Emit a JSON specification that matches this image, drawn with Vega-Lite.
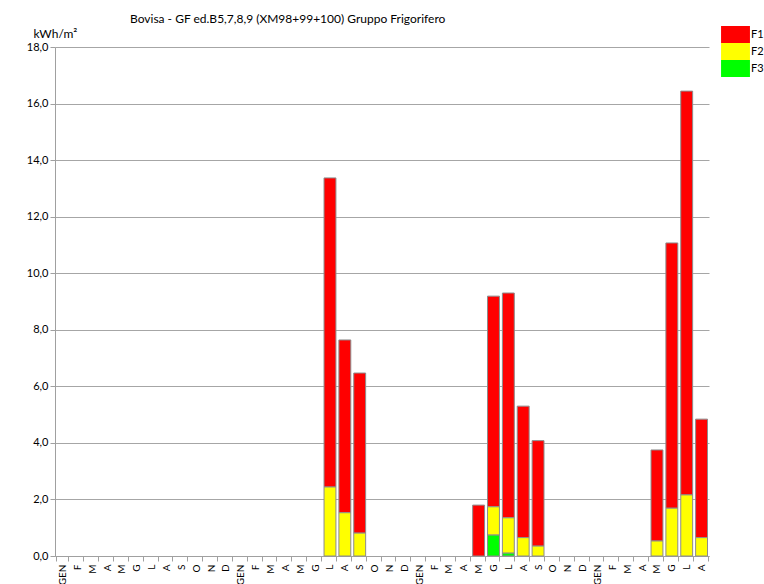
{
  "$schema": "https://vega.github.io/schema/vega-lite/v6.json",
  "width": 654,
  "height": 509,
  "autosize": "none",
  "padding": {"left": 55, "top": 47, "right": 55, "bottom": 28},
  "background": "white",
  "config": {
    "font": "Lato",
    "view": {"stroke": null},
    "locale": {"number": {"decimal": ",", "thousands": ".", "grouping": [3], "currency": ["", " €"]}}
  },
  "title": {
    "text": "Bovisa - GF ed.B5,7,8,9 (XM98+99+100)  Gruppo Frigorifero",
    "anchor": "start",
    "frame": "group",
    "dx": 75,
    "dy": 8,
    "offset": 8,
    "fontSize": 12,
    "fontWeight": "normal",
    "font": "Lato",
    "color": "#000000"
  },
  "data": {
    "values": [
      {"periodo": "1-GEN", "F1": 0, "F2": 0, "F3": 0},
      {"periodo": "1-F", "F1": 0, "F2": 0, "F3": 0},
      {"periodo": "1-M", "F1": 0, "F2": 0, "F3": 0},
      {"periodo": "1-A", "F1": 0, "F2": 0, "F3": 0},
      {"periodo": "1-Mg", "F1": 0, "F2": 0, "F3": 0},
      {"periodo": "1-G", "F1": 0, "F2": 0, "F3": 0},
      {"periodo": "1-L", "F1": 0, "F2": 0, "F3": 0},
      {"periodo": "1-Ag", "F1": 0, "F2": 0, "F3": 0},
      {"periodo": "1-S", "F1": 0, "F2": 0, "F3": 0},
      {"periodo": "1-O", "F1": 0, "F2": 0, "F3": 0},
      {"periodo": "1-N", "F1": 0, "F2": 0, "F3": 0},
      {"periodo": "1-D", "F1": 0, "F2": 0, "F3": 0},
      {"periodo": "2-GEN", "F1": 0, "F2": 0, "F3": 0},
      {"periodo": "2-F", "F1": 0, "F2": 0, "F3": 0},
      {"periodo": "2-M", "F1": 0, "F2": 0, "F3": 0},
      {"periodo": "2-A", "F1": 0, "F2": 0, "F3": 0},
      {"periodo": "2-Mg", "F1": 0, "F2": 0, "F3": 0},
      {"periodo": "2-G", "F1": 0, "F2": 0, "F3": 0},
      {"periodo": "2-L", "F1": 10.93, "F2": 2.44, "F3": 0},
      {"periodo": "2-Ag", "F1": 6.11, "F2": 1.53, "F3": 0},
      {"periodo": "2-S", "F1": 5.66, "F2": 0.81, "F3": 0},
      {"periodo": "2-O", "F1": 0, "F2": 0, "F3": 0},
      {"periodo": "2-N", "F1": 0, "F2": 0, "F3": 0},
      {"periodo": "2-D", "F1": 0, "F2": 0, "F3": 0},
      {"periodo": "3-GEN", "F1": 0, "F2": 0, "F3": 0},
      {"periodo": "3-F", "F1": 0, "F2": 0, "F3": 0},
      {"periodo": "3-M", "F1": 0, "F2": 0, "F3": 0},
      {"periodo": "3-A", "F1": 0, "F2": 0, "F3": 0},
      {"periodo": "3-Mg", "F1": 1.8, "F2": 0, "F3": 0},
      {"periodo": "3-G", "F1": 7.45, "F2": 1.0, "F3": 0.74},
      {"periodo": "3-L", "F1": 7.95, "F2": 1.25, "F3": 0.1},
      {"periodo": "3-Ag", "F1": 4.65, "F2": 0.65, "F3": 0},
      {"periodo": "3-S", "F1": 3.73, "F2": 0.35, "F3": 0},
      {"periodo": "3-O", "F1": 0, "F2": 0, "F3": 0},
      {"periodo": "3-N", "F1": 0, "F2": 0, "F3": 0},
      {"periodo": "3-D", "F1": 0, "F2": 0, "F3": 0},
      {"periodo": "4-GEN", "F1": 0, "F2": 0, "F3": 0},
      {"periodo": "4-F", "F1": 0, "F2": 0, "F3": 0},
      {"periodo": "4-M", "F1": 0, "F2": 0, "F3": 0},
      {"periodo": "4-A", "F1": 0, "F2": 0, "F3": 0},
      {"periodo": "4-Mg", "F1": 3.22, "F2": 0.53, "F3": 0},
      {"periodo": "4-G", "F1": 9.38, "F2": 1.69, "F3": 0},
      {"periodo": "4-L", "F1": 14.28, "F2": 2.16, "F3": 0},
      {"periodo": "4-Ag", "F1": 4.19, "F2": 0.65, "F3": 0}
    ]
  },
  "transform": [
    {"fold": ["F1", "F2", "F3"], "as": ["fascia", "valore"]}
  ],
  "mark": {"type": "bar", "stroke": "#8c8c8c", "strokeWidth": 1},
  "encoding": {
    "x": {
      "field": "periodo",
      "type": "ordinal",
      "sort": null,
      "scale": {"paddingInner": 0.2, "paddingOuter": 0.1},
      "axis": {
        "title": null,
        "labelAngle": -90,
        "labelExpr": "isString(datum.value) ? replace(replace(split(datum.value, '-')[1], 'Mg', 'M'), 'Ag', 'A') : ''",
        "labelFontSize": 10,
        "labelColor": "#000000",
        "labelPadding": 3,
        "tickBand": "extent",
        "tickSize": 5,
        "tickColor": "#a0a0a0",
        "domainColor": "#a0a0a0",
        "grid": false
      }
    },
    "y": {
      "field": "valore",
      "type": "quantitative",
      "stack": "zero",
      "scale": {"domain": [0, 18], "nice": false},
      "axis": {
        "title": "kWh/m²",
        "titleAngle": 0,
        "titleX": -22,
        "titleY": -14,
        "titleAlign": "left",
        "titleBaseline": "middle",
        "titleFontSize": 12,
        "titleFontWeight": "normal",
        "titleColor": "#000000",
        "values": [0, 2, 4, 6, 8, 10, 12, 14, 16, 18],
        "format": ".1f",
        "labelFontSize": 11,
        "labelColor": "#000000",
        "labelPadding": 2,
        "tickSize": 5,
        "tickColor": "#a0a0a0",
        "domainColor": "#a0a0a0",
        "grid": true,
        "gridColor": "#a6a6a6",
        "gridWidth": 1
      }
    },
    "color": {
      "field": "fascia",
      "type": "nominal",
      "scale": {"domain": ["F1", "F2", "F3"], "range": ["#ff0000", "#ffff00", "#00ff00"]},
      "legend": {
        "title": null,
        "orient": "none",
        "legendX": 672,
        "legendY": -21,
        "symbolType": "M-1.7,-1H1.7V1H-1.7Z",
        "symbolSize": 289,
        "symbolStrokeWidth": 0,
        "symbolOpacity": 1,
        "rowPadding": 0,
        "labelOffset": 7,
        "labelFontSize": 11,
        "labelColor": "#000000"
      }
    },
    "order": {"field": "fascia", "sort": "descending"},
    "strokeOpacity": {
      "condition": {"test": "datum.valore > 0", "value": 1},
      "value": 0
    }
  }
}
